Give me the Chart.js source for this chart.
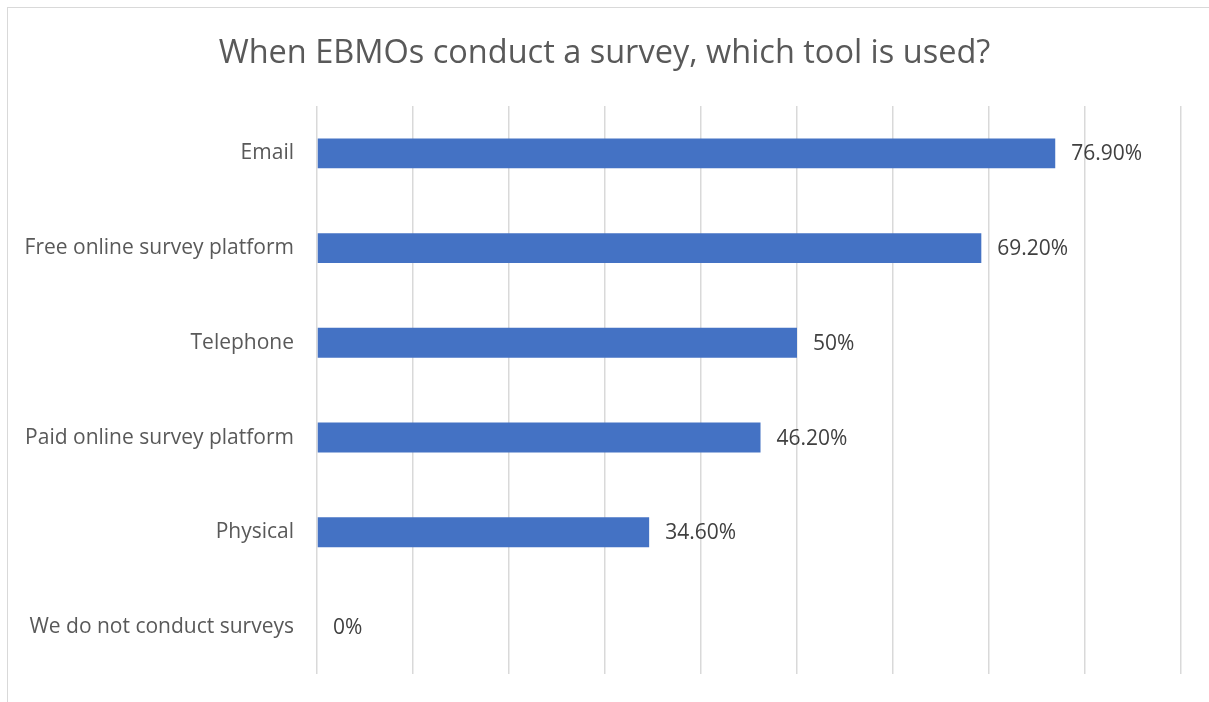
<!DOCTYPE html>
<html>
<head>
<meta charset="utf-8">
<script src="https://cdn.jsdelivr.net/npm/chart.js@4"></script>
<style>
  html, body { margin: 0; padding: 0; background: #fff; overflow: hidden; }
  #frame { position: absolute; left: 7px; top: 7px; width: 1400px; height: 900px;
           border-left: 1px solid #d9d9d9; border-top: 1px solid #d9d9d9; }
  #wrap { position: absolute; left: 0; top: 0; width: 1209px; height: 702px; }
</style>
</head>
<body>
<div id="frame"></div>
<div id="wrap"><canvas id="chart"></canvas></div>
<script>
const categories = [
  'Email',
  'Free online survey platform',
  'Telephone',
  'Paid online survey platform',
  'Physical',
  'We do not conduct surveys'
]
const shares = [76.9, 69.2, 50, 46.2, 34.6, 0]
const shareLabels = ['76.90%', '69.20%', '50%', '46.20%', '34.60%', '0%']

const FONT = '"Open Sans", sans-serif'

// Value labels to the right of each bar
const valueLabels = {
  id: 'valueLabels',
  afterDatasetsDraw(chart) {
    const { ctx } = chart
    const meta = chart.getDatasetMeta(0)
    ctx.save()
    ctx.font = '21px ' + FONT
    ctx.fillStyle = '#404040'
    ctx.textAlign = 'left'
    ctx.textBaseline = 'middle'
    meta.data.forEach((bar, i) => {
      ctx.fillText(shareLabels[i], bar.x + 16, bar.y + 1)
    })
    ctx.restore()
  }
}

new Chart(document.getElementById('chart'), {
  type: 'bar',
  data: {
    labels: categories,
    datasets: [{
      data: shares,
      backgroundColor: '#4472c4',
      borderWidth: 0,
      barPercentage: 0.316,
      categoryPercentage: 1
    }]
  },
  options: {
    indexAxis: 'y',
    responsive: true,
    maintainAspectRatio: false,
    animation: false,
    layout: { padding: { left: 0, right: 0, top: 0, bottom: 15 } },
    plugins: {
      legend: { display: false },
      tooltip: { enabled: false },
      title: {
        display: true,
        text: 'When EBMOs conduct a survey, which tool is used?',
        color: '#595959',
        font: { family: FONT, size: 32.5, weight: 'normal' },
        padding: { top: 34, bottom: 33 }
      }
    },
    scales: {
      x: {
        min: 0,
        max: 90,
        ticks: { display: false, stepSize: 10 },
        border: { display: false },
        grid: { color: '#d9d9d9', lineWidth: 1.5, drawTicks: false }
      },
      y: {
        grid: { display: false },
        border: { display: false },
        ticks: {
          color: '#595959',
          padding: 15,
          font: { family: FONT, size: 21 }
        },
        afterFit(scale) { scale.width = 317 }
      },
      // empty right margin so the title stays centred on the whole canvas
      right: {
        type: 'linear',
        position: 'right',
        ticks: { display: false },
        grid: { display: false },
        border: { display: false },
        afterFit(scale) { scale.width = 28 }
      }
    }
  },
  plugins: [valueLabels]
})
</script>
</body>
</html>
